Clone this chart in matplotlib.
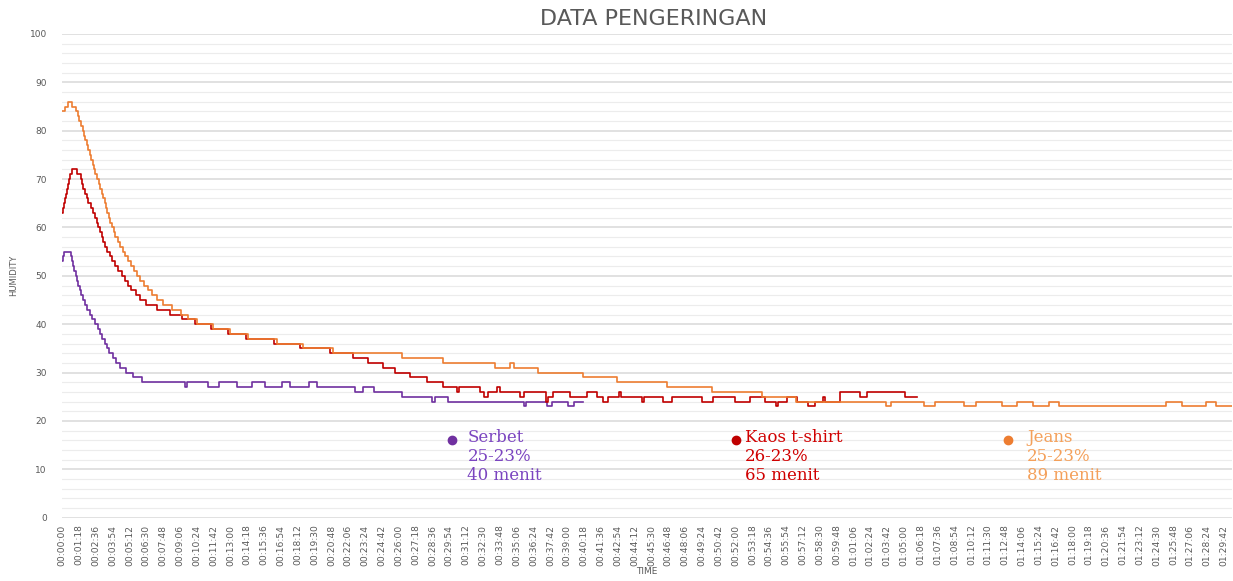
import numpy as np
import matplotlib
matplotlib.use("Agg")
import matplotlib.pyplot as plt
from matplotlib.ticker import FuncFormatter, MultipleLocator

# ============================================================
# DATA (time in minutes, humidity in %)
# ============================================================

serbet_t = [0, 0.08, 0.15, 0.67, 0.77, 0.86, 0.96, 1.05, 1.15, 1.25, 1.35,
            1.5, 1.65, 1.8, 1.95, 2.15, 2.35, 2.55, 2.75, 2.95, 3.1, 3.3,
            3.45, 3.65, 3.9, 4.2, 4.5, 4.95, 5.45, 6.15,
            9.49, 9.64, 11.26, 12.11, 13.5, 14.65, 15.66, 16.97, 17.58,
            19.05, 19.67, 22.6, 23.21, 24.06, 26.22, 28.54, 28.77, 29.77,
            35.63, 35.79, 37.41, 37.79, 39.03, 39.56, 40.18]
serbet_h = [53, 54, 55, 54, 53, 52, 51, 50, 49, 48, 47,
            46, 45, 44, 43, 42, 41, 40, 39, 38, 37, 36,
            35, 34, 33, 32, 31, 30, 29, 28,
            27, 28, 27, 28, 27, 28, 27, 28, 27,
            28, 27, 26, 27, 26, 25, 24, 25, 24,
            23, 24, 23, 24, 23, 24, 24]

kaos_t = [0, 0.05, 0.12, 0.2, 0.28, 0.36, 0.45, 0.53, 0.62, 0.8,
          1.16, 1.45, 1.55, 1.65, 1.75, 1.9, 2.03, 2.2, 2.38, 2.55, 2.68,
          2.8, 2.93, 3.06, 3.19, 3.35, 3.51, 3.67, 3.83,
          4.1, 4.35, 4.6, 4.85, 5.1, 5.35, 5.7, 6.05, 6.5, 7.3, 8.3, 9.3,
          10.3, 11.5, 12.8, 14.2, 16.4, 18.4, 20.7, 22.5, 23.6, 24.75,
          25.67, 26.83, 28.15, 29.39,
          30.5, 30.66, 32.28, 32.59, 32.9, 33.59, 33.82, 35.37, 35.68,
          37.38, 37.53, 37.92, 39.23,
          40.54, 41.31, 41.78, 42.16, 43.01, 43.17, 44.79, 44.9, 46.41, 47.1,
          49.42, 50.27, 51.97, 53.13, 54.29, 55.14, 55.29, 55.98, 56.76, 57.61,
          58.15, 58.76, 58.92, 60.08, 61.62, 62.16, 65.1, 66.02]
kaos_h = [63, 64, 65, 66, 67, 68, 69, 70, 71, 72,
          71, 70, 69, 68, 67, 66, 65, 64, 63, 62, 61,
          60, 59, 58, 57, 56, 55, 54, 53,
          52, 51, 50, 49, 48, 47, 46, 45, 44, 43, 42, 41,
          40, 39, 38, 37, 36, 35, 34, 33, 32, 31,
          30, 29, 28, 27,
          26, 27, 26, 25, 26, 27, 26, 25, 26,
          24, 25, 26, 25,
          26, 25, 24, 25, 26, 25, 24, 25, 24, 25,
          24, 25, 24, 25, 24, 23, 24, 25, 24, 23,
          24, 25, 24, 26, 25, 26, 25, 25]

jeans_t = [0, 0.23, 0.46, 0.8,
           1.1, 1.2, 1.33, 1.5, 1.6, 1.7, 1.8, 1.92, 2.03, 2.14, 2.25, 2.36,
           2.47, 2.58, 2.7, 2.82, 2.95, 3.08, 3.18, 3.29, 3.39, 3.5, 3.62,
           3.74, 3.86, 3.98, 4.11,
           4.3, 4.48, 4.67, 4.86, 5.08, 5.3, 5.52, 5.78, 6.05, 6.35, 6.66,
           6.95, 7.3, 7.8, 8.5, 9.2, 9.75, 10.4,
           11.65, 12.96, 14.35, 16.58, 18.59, 20.9, 26.22, 29.39,
           33.4, 34.6, 34.86, 36.71, 40.18, 42.88, 46.74, 50.14, 54.07, 56.69,
           63.63, 64.02, 66.56, 67.41, 69.65, 70.57, 72.58, 73.74, 74.97,
           76.2, 76.98, 85.23, 86.46, 88.31, 89.09, 90.3]
jeans_h = [84, 85, 86, 85,
           84, 83, 82, 81, 80, 79, 78, 77, 76, 75, 74, 73,
           72, 71, 70, 69, 68, 67, 66, 65, 64, 63, 62,
           61, 60, 59, 58,
           57, 56, 55, 54, 53, 52, 51, 50, 49, 48, 47,
           46, 45, 44, 43, 42, 41, 40,
           39, 38, 37, 36, 35, 34, 33, 32,
           31, 32, 31, 30, 29, 28, 27, 26, 25, 24,
           23, 24, 23, 24, 23, 24, 23, 24, 23,
           24, 23, 24, 23, 24, 23, 23]

series_names = ["Serbet", "Kaos t-shirt", "Jeans"]
series_notes = ["25-23%\n40 menit", "26-23%\n65 menit", "25-23%\n89 menit"]

TICK_STEP_SEC = 78
LAST_TICK_SEC = 5382

# ============================================================
# COLORS
# ============================================================

c_serbet = "#7030A0"
c_kaos = "#C00000"
c_jeans = "#ED7D31"
txt_serbet = "#7B45C0"
txt_kaos = "#D00000"
txt_jeans = "#F4A05A"

# ============================================================
# PLOT
# ============================================================

fig = plt.figure(figsize=(12.33, 5.81), dpi=100)
ax = fig.add_axes([0.0503, 0.109, 0.9487, 0.8325])

ax.step(serbet_t, serbet_h, where="post", color=c_serbet, lw=1.2, zorder=3)
ax.step(kaos_t, kaos_h, where="post", color=c_kaos, lw=1.2, zorder=4)
ax.step(jeans_t, jeans_h, where="post", color=c_jeans, lw=1.2, zorder=5)

ax.set_xlim(0, 90.3)
ax.set_ylim(0, 100)

# grid
ax.yaxis.set_major_locator(MultipleLocator(10))
ax.yaxis.set_minor_locator(MultipleLocator(2))
ax.grid(axis="y", which="major", color="#D9D9D9", lw=1.1)
ax.grid(axis="y", which="minor", color="#ECECEC", lw=0.8)
ax.set_axisbelow(True)
for s in ax.spines.values():
    s.set_visible(False)

# x ticks every 78 s
xt = np.arange(0, LAST_TICK_SEC + 1, TICK_STEP_SEC) / 60.0
ax.set_xticks(xt)


def fmt_time(v, pos):
    sec = int(round(v * 60))
    return f"{sec // 3600:02d}:{(sec % 3600) // 60:02d}:{sec % 60:02d}"


ax.xaxis.set_major_formatter(FuncFormatter(fmt_time))
ax.tick_params(axis="x", length=0, labelsize=6.6, labelcolor="#595959",
               rotation=90, pad=5)
ax.tick_params(axis="y", which="both", length=0, labelsize=6.5,
               labelcolor="#595959", pad=11)

ax.set_xlabel("TIME", fontsize=6.5, color="#595959", labelpad=1)
ax.set_ylabel("HUMIDITY", fontsize=6, color="#595959", labelpad=8)

fig.text(0.53, 0.968, "DATA PENGERINGAN", ha="center", va="center",
         fontsize=16, color="#595959", family="DejaVu Sans")

# ------------------------------------------------------------
# annotations
# ------------------------------------------------------------

notes = [
    (30.1, 31.3, c_serbet, txt_serbet),
    (52.0, 52.7, c_kaos, txt_kaos),
    (73.0, 74.5, c_jeans, txt_jeans),
]
for (dot_x, text_x, dc, tc), name, note in zip(notes, series_names, series_notes):
    ax.plot(dot_x, 16.0, "o", color=dc, ms=6, zorder=6)
    ax.text(text_x, 18.4, name + "\n" + note, color=tc, fontsize=12,
            family="DejaVu Serif", va="top", ha="left",
            linespacing=1.18, zorder=6)

fig.savefig("out.png", dpi=100)
